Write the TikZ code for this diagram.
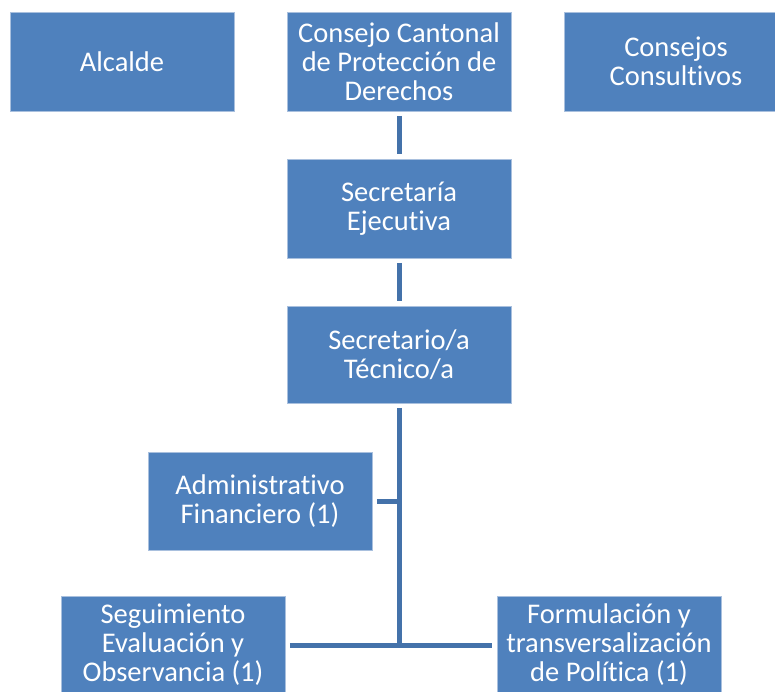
\documentclass[tikz,border=0pt]{standalone}
\usepackage{fontspec}
\setmainfont{Carlito}[Ligatures=NoCommon]
\definecolor{boxfill}{HTML}{4F81BD}
\definecolor{boxedge}{HTML}{A9C0DE}
\definecolor{linkcol}{HTML}{4472AA}
\begin{document}
\begin{tikzpicture}[x=1pt,y=-1pt,
  unit/.style={rectangle, fill=boxfill, draw=boxedge, line width=0.5pt,
    minimum width=224pt, minimum height=99pt, inner sep=0pt,
    align=center, text=white,
    font=\fontsize{28.5}{29}\selectfont},
  link/.style={draw=linkcol, line width=5pt, shorten <=4.5pt, shorten >=4.5pt},
  joint/.style={draw=linkcol, line width=5pt}]
\useasboundingbox (0,0) rectangle (775,691);
\clip (0,0) rectangle (775,691);
\node[unit] (alc) at (122,61.5) {Alcalde};
\node[unit] (ccp) at (399,61.5) {Consejo Cantonal\\de Protección de\\Derechos};
\node[unit] (ccs) at (676,61.5) {Consejos\\Consultivos};
\node[unit] (sej) at (399,208.5) {Secretaría\\Ejecutiva};
\node[unit, minimum height=97pt] (stc) at (399,354.5) {Secretario/a\\Técnico/a};
\node[unit, minimum height=98pt] (adm) at (260,501) {Administrativo\\Financiero (1)};
\node[unit, minimum height=98pt] (seg) at (173,645) {Seguimiento\\Evaluación y\\Observancia (1)};
\node[unit, minimum height=98pt] (frm) at (609,645) {Formulación y\\transversalización\\de Política (1)};
\coordinate (jadm) at (399,501);
\coordinate (jbot) at (399,645);
\draw[link] (ccp) -- (sej);
\draw[link] (sej) -- (stc);
\draw[joint, shorten <=4.5pt] (stc.south) -- (jbot);
\draw[joint, shorten <=4.5pt] (adm.east) -- (jadm);
\draw[link] (seg) -- (frm);
\end{tikzpicture}
\end{document}
